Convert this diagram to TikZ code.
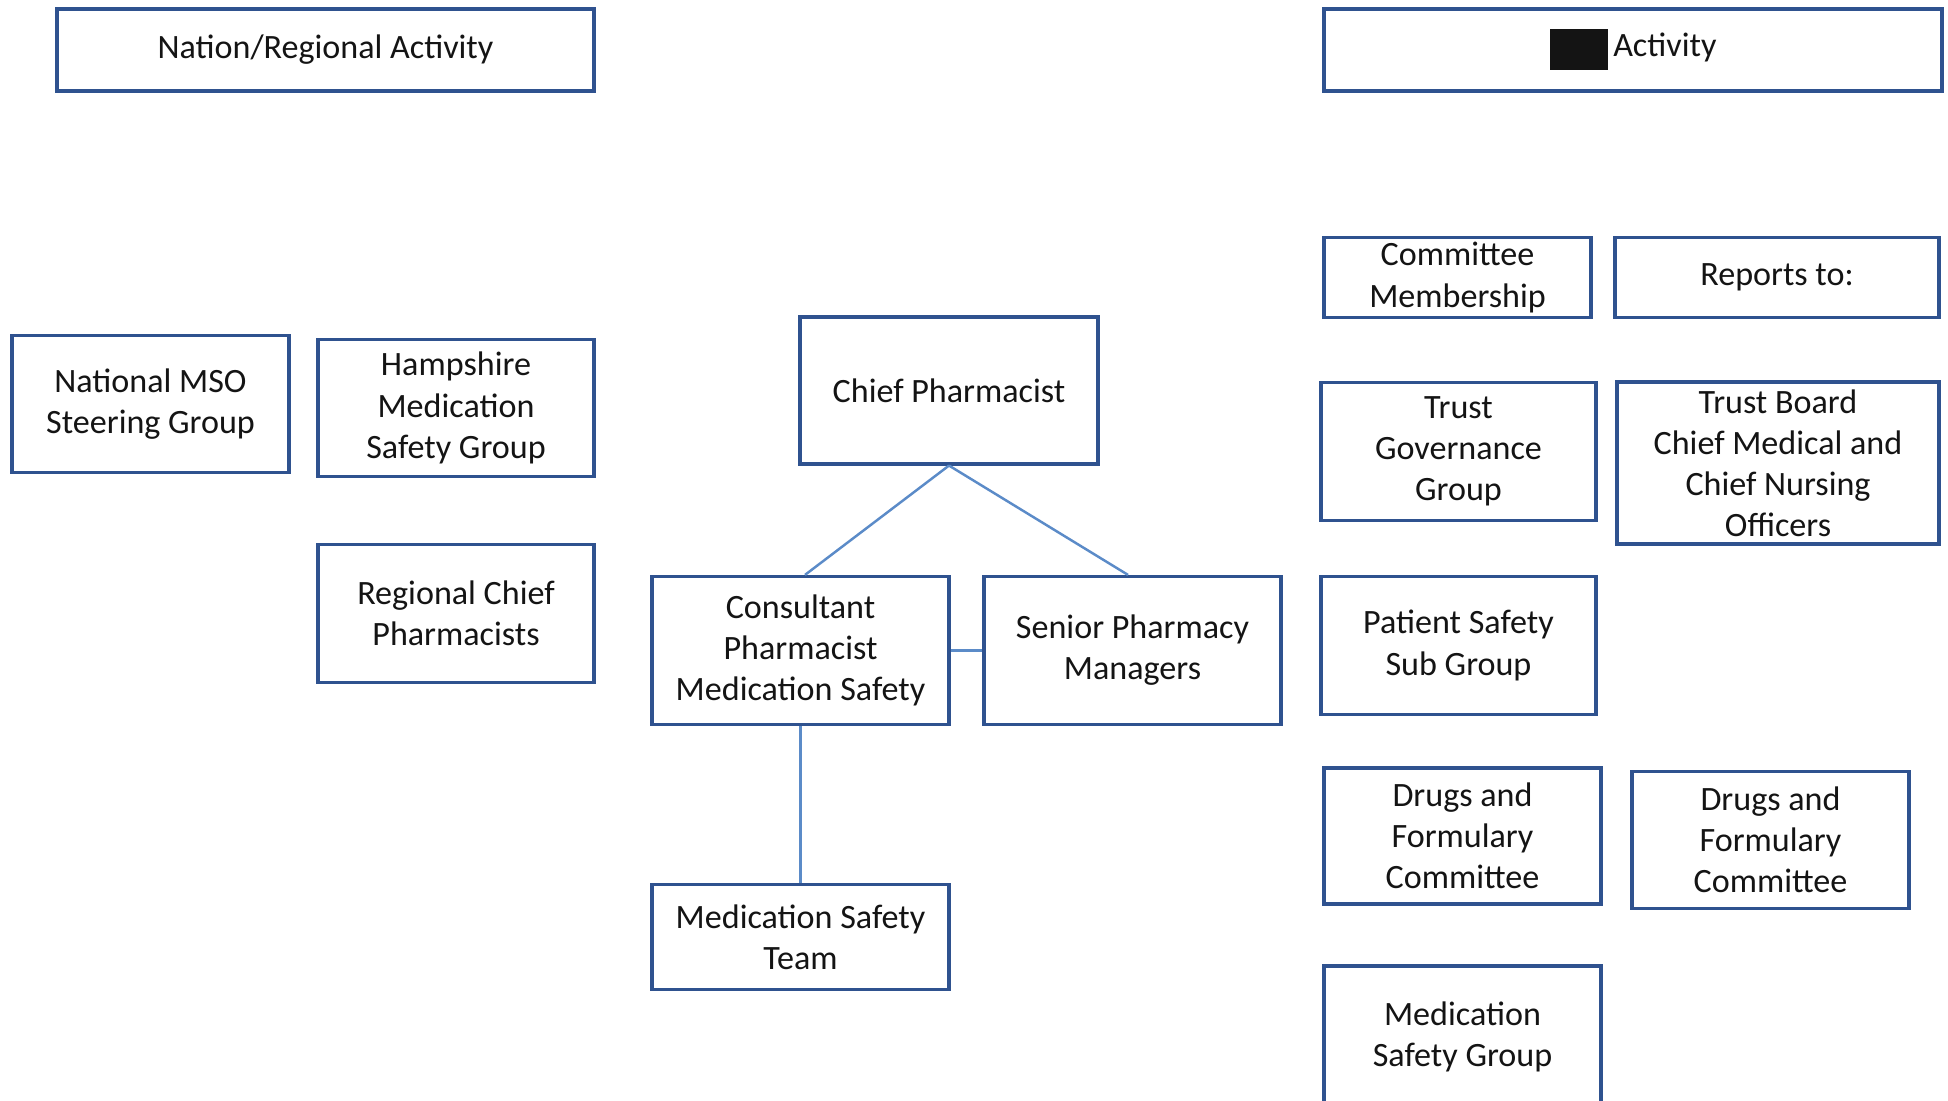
\documentclass[tikz,border=0pt]{standalone}
\usepackage{fontspec}
\setmainfont{Carlito}
\usepackage{tikz}
\usetikzlibrary{positioning}
\definecolor{boxblue}{RGB}{47,82,143}
\definecolor{linkblue}{RGB}{91,139,200}
\definecolor{txtgrey}{RGB}{20,20,20}
\tikzset{
  box/.style={rectangle, draw=boxblue, fill=white, line width=0.9pt,
    align=center, inner sep=0pt, text=txtgrey,
    font=\fontsize{9.7pt}{11.7pt}\selectfont},
  link/.style={draw=linkblue, line width=0.7pt}
}

\begin{document}
\begin{tikzpicture}
  \useasboundingbox (0,0) rectangle (19.48,11.01);

  % headers
  \node[box, minimum width=5.37cm, minimum height=0.82cm] (nation) at (3.255,10.51) {Nation/Regional Activity};
  \node[box, minimum width=6.18cm, minimum height=0.82cm] (activity) at (16.33,10.51) {\raisebox{-0.14cm}{\rule{0.58cm}{0.41cm}}\,Activity};

  % national / regional
  \node[box, minimum width=2.77cm, minimum height=1.37cm] (mso) at (1.505,6.97) {National MSO\\Steering Group};
  \node[box, minimum width=2.76cm, minimum height=1.37cm] (hampshire) at (4.56,6.93) {Hampshire\\Medication\\Safety Group};
  \node[box, minimum width=2.76cm, minimum height=1.38cm] (regional) at (4.56,4.875) {Regional Chief\\Pharmacists};

  % pharmacy structure
  \node[box, minimum width=2.98cm, minimum height=1.47cm] (chief) at (9.49,7.105) {Chief Pharmacist};
  \node[box, minimum width=2.97cm, minimum height=1.48cm] (consultant) at (8.005,4.505) {Consultant\\Pharmacist\\Medication Safety};
  \node[box, minimum width=2.97cm, minimum height=1.48cm] (senior) at (11.325,4.505) {Senior Pharmacy\\Managers};
  \node[box, minimum width=2.97cm, minimum height=1.05cm] (team) at (8.005,1.64) {Medication Safety\\Team};

  % trust committees
  \node[box, minimum width=2.67cm, minimum height=0.80cm] (member) at (14.575,8.235) {Committee\\Membership};
  \node[box, minimum width=3.24cm, minimum height=0.80cm] (reports) at (17.77,8.235) {Reports to:};
  \node[box, minimum width=2.75cm, minimum height=1.38cm] (trustgov) at (14.585,6.495) {Trust\\Governance\\Group};
  \node[box, minimum width=3.22cm, minimum height=1.62cm] (board) at (17.78,6.38) {Trust Board\\Chief Medical and\\Chief Nursing\\Officers};
  \node[box, minimum width=2.75cm, minimum height=1.38cm] (patient) at (14.585,4.555) {Patient Safety\\Sub Group};
  \node[box, minimum width=2.77cm, minimum height=1.36cm] (dfcleft) at (14.625,2.65) {Drugs and\\Formulary\\Committee};
  \node[box, minimum width=2.77cm, minimum height=1.37cm] (dfcright) at (17.705,2.61) {Drugs and\\Formulary\\Committee};
  \node[box, minimum width=2.77cm, minimum height=1.42cm] (msg) at (14.625,0.64) {Medication\\Safety Group};

  % links
  \draw[link] (chief.south) -- ([xshift=-1.44cm]chief.south |- consultant.north);
  \draw[link] (chief.south) -- ([xshift=-0.045cm]senior.north);
  \draw[link] (consultant.east) -- (senior.west);
  \draw[link] (consultant.south) -- (team.north);
\end{tikzpicture}
\end{document}
